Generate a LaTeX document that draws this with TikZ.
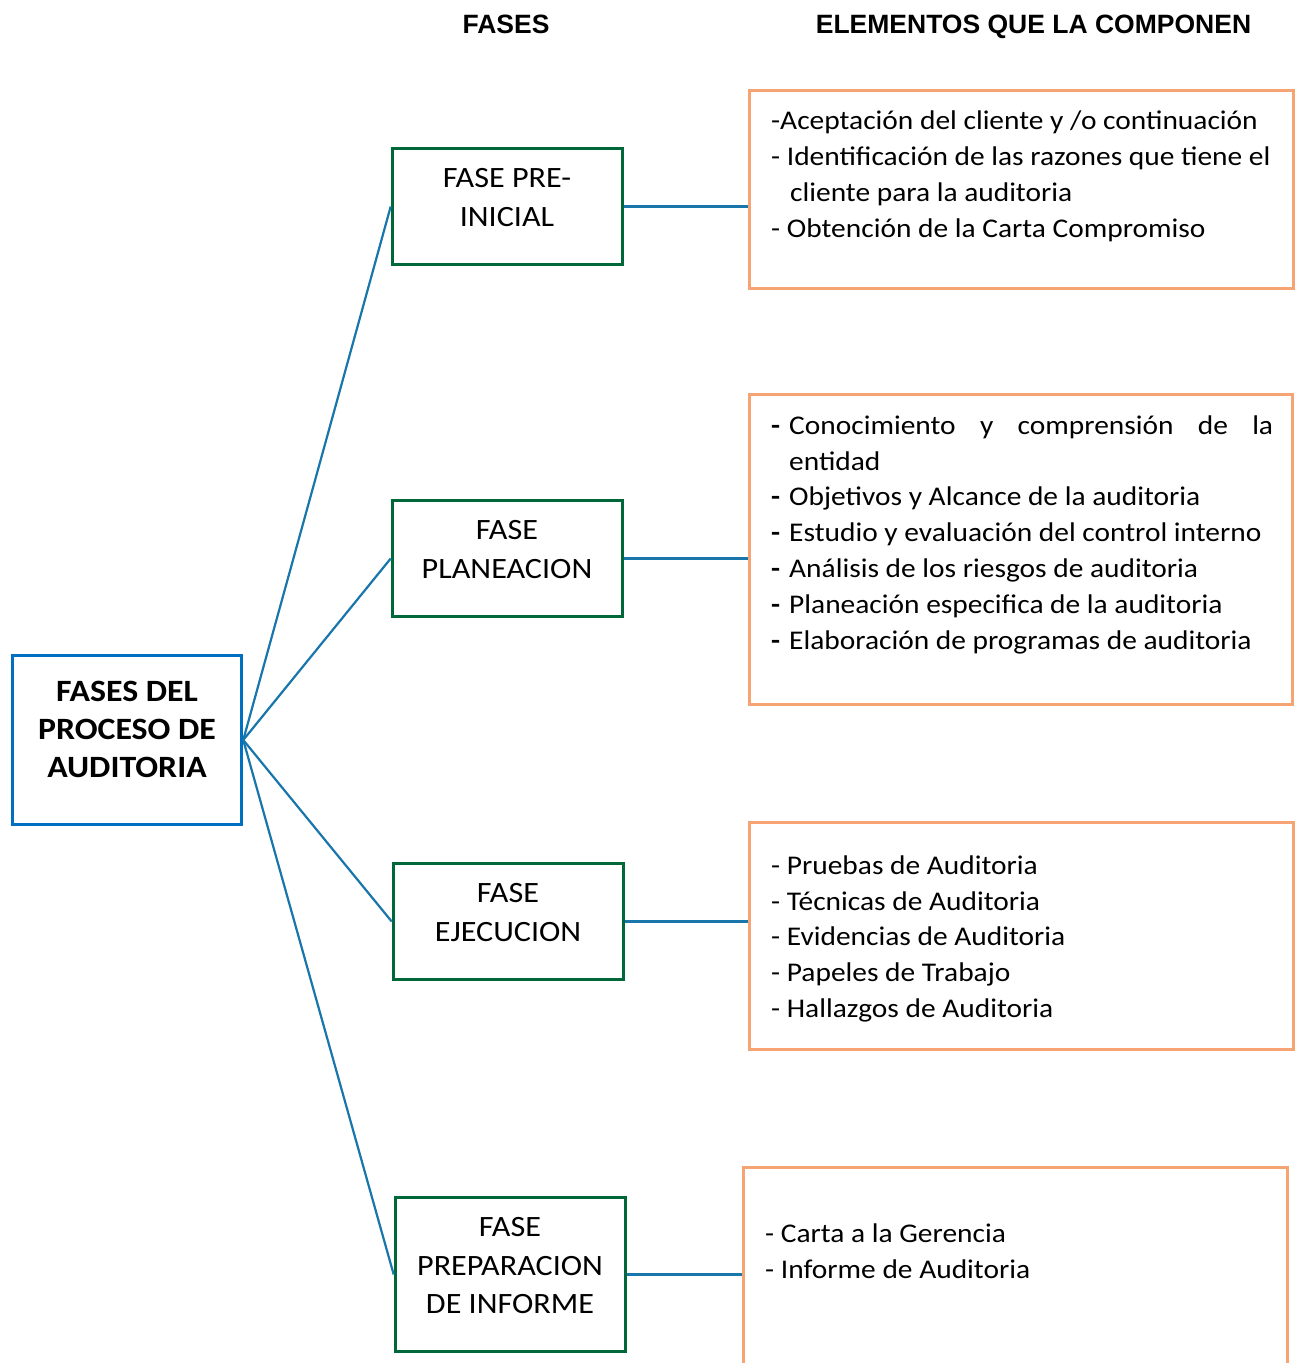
\documentclass[tikz,border=0pt]{standalone}
\usepackage{fontspec}
\setmainfont{Carlito}[FakeStretch=1.09]
\newfontfamily\hdrfont{Liberation Sans}
\usetikzlibrary{calc}
\definecolor{mainblue}{RGB}{0,112,192}
\definecolor{phgreen}{RGB}{0,104,56}
\definecolor{linkblue}{RGB}{24,118,170}
\definecolor{elorange}{RGB}{247,164,116}
\newcommand{\bdash}{\makebox[18pt][l]{\textbf{-}}}
\begin{document}
\begin{tikzpicture}[x=1pt,y=-1pt,
  mainbox/.style={draw=mainblue,line width=3.5pt,minimum width=229pt,minimum height=169pt,inner sep=0pt},
  phasebox/.style={draw=phgreen,line width=3.6pt,minimum width=230pt,inner sep=0pt},
  elbox/.style={draw=elorange,line width=3.5pt,minimum width=544pt,inner sep=0pt},
  maintext/.style={align=center,font=\bfseries\fontsize{31}{38}\selectfont,inner sep=0pt,anchor=base},
  phtext/.style={align=center,font=\fontsize{29.5}{38.5}\selectfont,inner sep=0pt,anchor=base},
  eltext/.style={align=left,font=\fontsize{27}{35.8}\selectfont,inner sep=0pt,anchor=base west},
  hdr/.style={font=\hdrfont\bfseries\fontsize{26.5}{30}\selectfont,anchor=base,inner sep=0pt},
  link/.style={draw=linkblue,line width=2.2pt}]
\useasboundingbox (0,0) rectangle (1303,1363);
\fill[white] (0,0) rectangle (1303,1363);

% headers
\node[hdr] (h1) at (506,33.5) {FASES};
\node[hdr] (h2) at (1033.5,33.5) {ELEMENTOS QUE LA COMPONEN};

% main box
\node[mainbox] (m) at (127,740) {};
\node[maintext] (mt) at (127,777.5) {FASES DEL\\PROCESO DE\\AUDITORIA};

% phase boxes
\node[phasebox,minimum height=116pt] (p1) at (507.5,206.5) {};
\node[phasebox,minimum height=116pt] (p2) at (507.5,558.5) {};
\node[phasebox,minimum height=116pt] (p3) at (508.5,921.5) {};
\node[phasebox,minimum height=154pt] (p4) at (510.5,1274.5) {};
\node[phtext] (p1t) at (507,226) {FASE PRE-\\INICIAL};
\node[phtext] (p2t) at (507,578) {FASE\\PLANEACION};
\node[phtext] (p3t) at (508,941) {FASE\\EJECUCION};
\node[phtext] (p4t) at (510,1313.5) {FASE\\PREPARACION\\DE INFORME};

% element boxes
\node[elbox,minimum height=198pt] (e1) at (1021.5,189.5) {};
\node[elbox,minimum width=543pt,minimum height=310pt] (e2) at (1021,549.5) {};
\node[elbox,minimum height=227pt] (e3) at (1021.5,936) {};
\node[elbox,minimum width=544pt,minimum height=300pt] (e4) at (1015.5,1317.5) {};

\node[eltext] (e1t) at (771,237) {-Aceptación del cliente y /o continuación\\
- Identificación de las razones que tiene el\\
\hspace*{19pt}cliente para la auditoria\\
- Obtención de la Carta Compromiso};
\node[eltext] (e2t) at (771,649) {\bdash\makebox[484pt][s]{Conocimiento y comprensión de la}\\
\hspace*{18pt}entidad\\
\bdash Objetivos y Alcance de la auditoria\\
\bdash Estudio y evaluación del control interno\\
\bdash Análisis de los riesgos de auditoria\\
\bdash Planeación especifica de la auditoria\\
\bdash Elaboración de programas de auditoria};
\node[eltext] (e3t) at (771,1017.5) {- Pruebas de Auditoria\\
- Técnicas de Auditoria\\
- Evidencias de Auditoria\\
- Papeles de Trabajo\\
- Hallazgos de Auditoria};
\node[eltext] (e4t) at (765,1278) {- Carta a la Gerencia\\
- Informe de Auditoria};

% connectors
\foreach \p in {p1,p2,p3,p4}{\draw[link] (m.east) -- (\p.west);}
\draw[link] (p1.east) -- (p1.east -| e1.west);
\draw[link] (p2.east) -- (p2.east -| e2.west);
\draw[link] (p3.east) -- (p3.east -| e3.west);
\draw[link] (p4.east) -- (p4.east -| e4.west);
\end{tikzpicture}
\end{document}
